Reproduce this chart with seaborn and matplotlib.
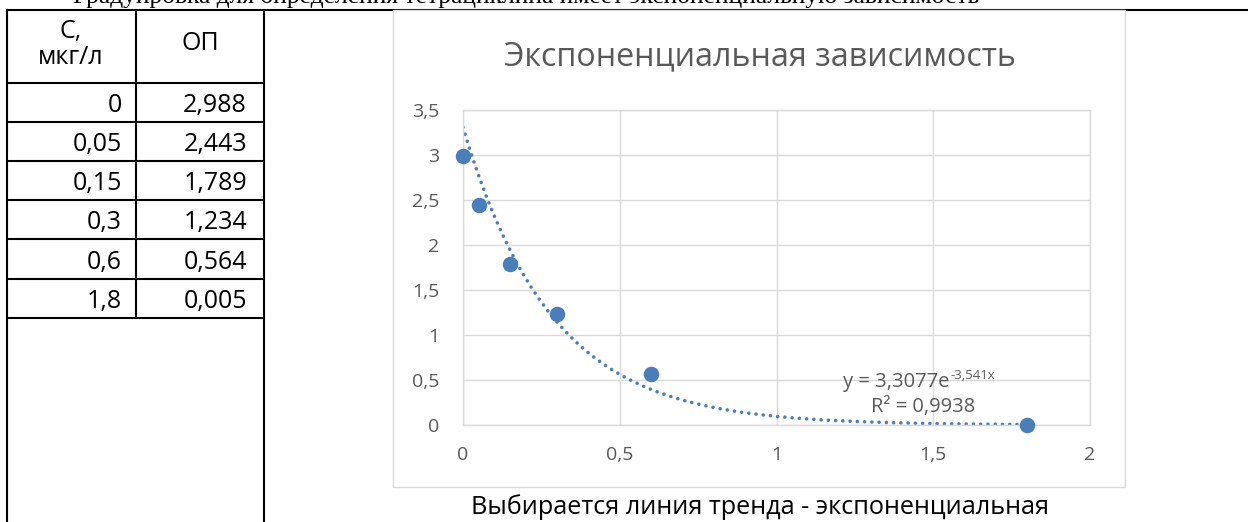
import numpy as np
import matplotlib
matplotlib.use("Agg")
import matplotlib.pyplot as plt
from matplotlib.lines import Line2D
from matplotlib.patches import Rectangle
import seaborn as sns

# data from the table
conc = [0, 0.05, 0.15, 0.3, 0.6, 1.8]
od = [2.988, 2.443, 1.789, 1.234, 0.564, 0.005]
conc_labels = ["0", "0,05", "0,15", "0,3", "0,6", "1,8"]
od_labels = ["2,988", "2,443", "1,789", "1,234", "0,564", "0,005"]
x_ticks = [0, 0.5, 1, 1.5, 2]
x_ticklabels = ["0", "0,5", "1", "1,5", "2"]
y_ticks = [0, 0.5, 1, 1.5, 2, 2.5, 3, 3.5]
y_ticklabels = ["0", "0,5", "1", "1,5", "2", "2,5", "3", "3,5"]

top_text = "Градуировка для определения тетрациклина имеет экспоненциальную зависимость"
title = "Экспоненциальная зависимость"
caption = "Выбирается линия тренда - экспоненциальная"
eq_main = "y = 3,3077e"
eq_sup = "-3,541x"
r2_text = "R² = 0,9938"

W, H = 1248, 522
blue = "#4a7ebb"
grid_c = "#d9d9d9"
txt_c = "#595959"

sns.set_theme(style="white")
plt.rcParams["font.family"] = ["Open Sans", "DejaVu Sans"]


def fx(px):
    return px / W


def fy(py):
    return 1 - py / H


fig = plt.figure(figsize=(W / 100, H / 100), dpi=100)
fig.patch.set_facecolor("white")

# table grid
lw = 1.5
fig.add_artist(Line2D([fx(7), fx(W)], [fy(10), fy(10)], color="black", lw=lw, zorder=-3))
for xp in (7, 264):
    fig.add_artist(Line2D([fx(xp), fx(xp)], [fy(10), fy(H)], color="black", lw=lw, zorder=-3))
fig.add_artist(Line2D([fx(136), fx(136)], [fy(10), fy(318)], color="black", lw=lw, zorder=-3))
row_lines = [83, 122, 161, 200, 239, 279, 318]
for yp in row_lines:
    fig.add_artist(Line2D([fx(7), fx(264)], [fy(yp), fy(yp)], color="black", lw=lw, zorder=-3))

fs_tab = 18
fig.text(fx(71), fy(31), "С,", ha="center", va="center", fontsize=fs_tab, color="black")
fig.text(fx(71), fy(58), "мкг/л", ha="center", va="center", fontsize=fs_tab, color="black")
fig.text(fx(200), fy(44), "ОП", ha="center", va="center", fontsize=fs_tab, color="black")
for i in range(len(conc)):
    yc = (row_lines[i] + row_lines[i + 1]) / 2 + 3
    fig.text(fx(122), fy(yc), conc_labels[i], ha="right", va="center", fontsize=fs_tab, color="black")
    fig.text(fx(247), fy(yc), od_labels[i], ha="right", va="center", fontsize=fs_tab, color="black")

# cut-off line of text at the very top (it is cut in the source too)
fig.text(fx(73), fy(3), top_text, ha="left", va="baseline", fontsize=18.4,
         family=["Liberation Serif", "DejaVu Serif"], color="black")

# chart frame
fig.add_artist(Rectangle((fx(393), fy(487)), fx(1125) - fx(393), fy(10) - fy(487),
                         transform=fig.transFigure, facecolor="white", edgecolor=grid_c,
                         lw=1, zorder=-2))

ax = fig.add_axes([fx(463), fy(425), fx(1090) - fx(463), fy(110) - fy(425)])
ax.patch.set_alpha(0)

# exponential trend line, fitted like Excel does (ln y linear in x)
b, a = np.polyfit(conc, np.log(od), 1)
xs = np.linspace(0, max(conc), 300)
sns.lineplot(x=xs, y=np.exp(a) * np.exp(b * xs), ax=ax, color=blue, lw=2.6,
             linestyle=(0, (0.01, 2.0)), dash_capstyle="round", zorder=2)
sns.scatterplot(x=conc, y=od, ax=ax, s=125, color=blue, edgecolor=blue, linewidth=0,
                zorder=3, clip_on=False)

ax.set_xlim(0, 2)
ax.set_ylim(0, 3.5)
ax.set_xticks(x_ticks)
ax.set_xticklabels(x_ticklabels)
ax.set_yticks(y_ticks)
ax.set_yticklabels(y_ticklabels)
ax.tick_params(length=0, labelsize=14, labelcolor=txt_c)
ax.tick_params(axis="x", pad=15)
ax.tick_params(axis="y", pad=17)
ax.grid(True, color=grid_c, lw=1)
for s in ax.spines.values():
    s.set_visible(True)
    s.set_color(grid_c)
    s.set_linewidth(1)
ax.set_xlabel("")
ax.set_ylabel("")

fig.text(fx(760), fy(57), title, ha="center", va="center", fontsize=23.2, color=txt_c)

# trendline label: main part plus a raised exponent right after it
t_eq = fig.text(fx(843), fy(387), eq_main, ha="left", va="baseline", fontsize=14.5, color=txt_c)
ax.annotate(eq_sup, xy=(1, 1), xycoords=t_eq, xytext=(0.5, 2), textcoords="offset points",
            ha="left", va="top", fontsize=9.5, color=txt_c, annotation_clip=False)
fig.text(fx(923), fy(407), r2_text, ha="center", va="center", fontsize=14.5, color=txt_c)

fig.text(fx(760), fy(507), caption, ha="center", va="center", fontsize=18.2, color="black")

fig.savefig("out.png", dpi=100)
